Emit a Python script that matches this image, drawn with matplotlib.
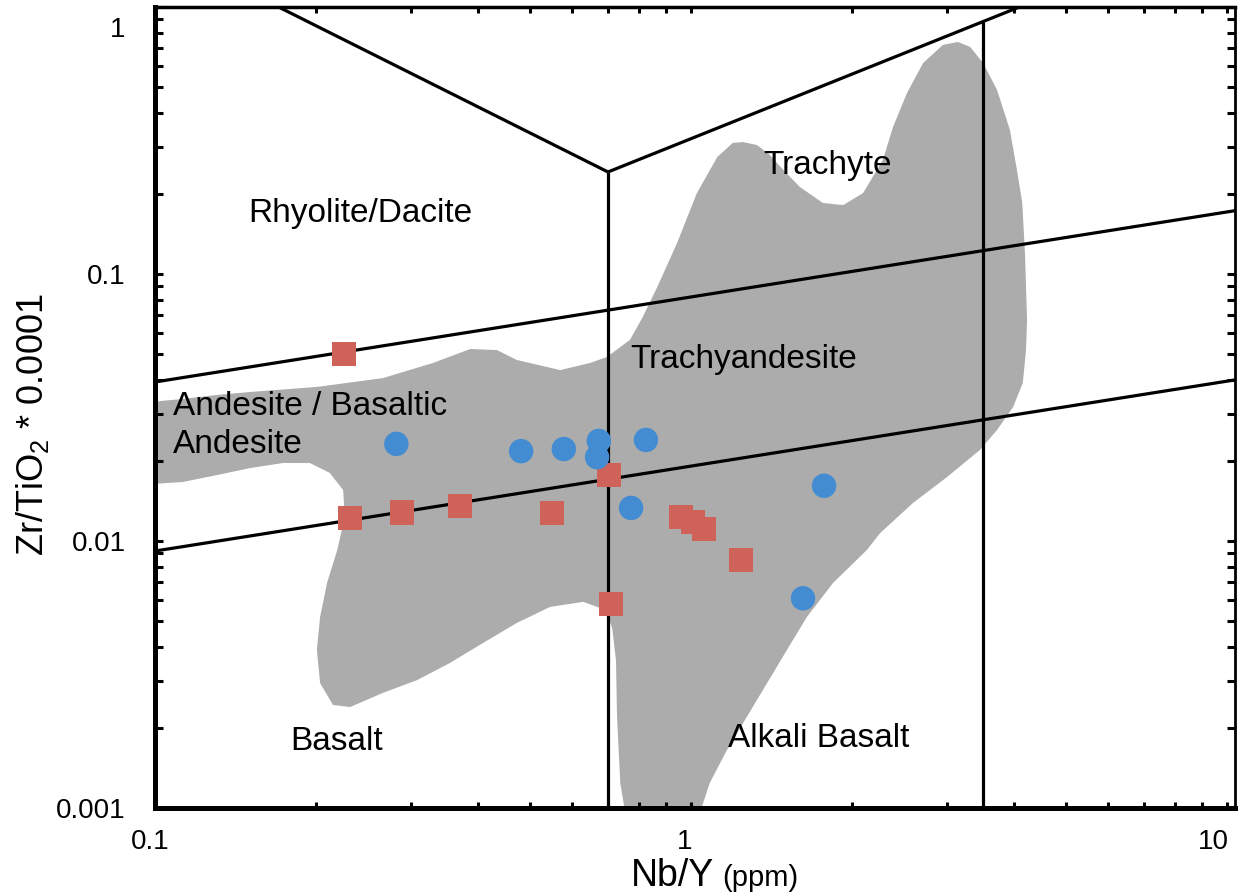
import matplotlib
matplotlib.use('Agg')
import matplotlib.pyplot as plt
import matplotlib.ticker as mtick
import matplotlib.transforms as mtrans
import numpy as np

plt.rcParams['font.family'] = ['Liberation Sans', 'DejaVu Sans']
plt.rcParams['mathtext.fontset'] = 'custom'
plt.rcParams['mathtext.rm'] = 'Liberation Sans'

# sample groups: Nb/Y and Zr/TiO2*0.0001
red_nby = [0.225, 0.231, 0.289, 0.371, 0.551, 0.703, 0.958, 1.009, 1.057, 1.240, 0.709]
red_zrti = [0.0501, 0.0122, 0.0128, 0.0135, 0.0127, 0.0177, 0.0123, 0.0118, 0.0111, 0.0085, 0.0058]
blue_nby = [0.282, 0.482, 0.579, 0.673, 0.668, 0.824, 0.773, 1.771, 1.618]
blue_zrti = [0.0231, 0.0217, 0.0221, 0.0237, 0.0206, 0.0239, 0.0133, 0.0161, 0.0061]

# outline of the grey comparison field (log10 units)
field_log_nby = [-1.009, -0.991, -0.948, -0.884, -0.823, -0.698, -0.575, -0.481, -0.412, -0.362,
                 -0.325, -0.244, -0.188, -0.157, -0.114, -0.090, -0.063, -0.026, 0.011, 0.049,
                 0.078, 0.097, 0.123, 0.147, 0.172, 0.203, 0.246, 0.284, 0.321, 0.358,
                 0.377, 0.403, 0.433, 0.470, 0.498, 0.521, 0.545, 0.571, 0.595, 0.608,
                 0.618, 0.623, 0.627, 0.625, 0.619, 0.601, 0.571, 0.539, 0.478, 0.414,
                 0.353, 0.328, 0.265, 0.216, 0.179, 0.142, 0.104, 0.067, 0.035, 0.017,
                 -0.123, -0.132, -0.138, -0.140, -0.147, -0.160, -0.201, -0.263, -0.325, -0.388,
                 -0.450, -0.511, -0.575, -0.636, -0.668, -0.692, -0.698, -0.692, -0.679, -0.660,
                 -0.646, -0.649, -0.674, -0.711, -0.761, -0.823, -0.884, -0.948, -1.009]
field_log_zrti = [-1.487, -1.476, -1.468, -1.453, -1.442, -1.423, -1.390, -1.333, -1.281, -1.285,
                  -1.322, -1.360, -1.333, -1.311, -1.247, -1.161, -1.049, -0.884, -0.697, -0.562,
                  -0.509, -0.506, -0.517, -0.554, -0.610, -0.674, -0.734, -0.742, -0.697, -0.573,
                  -0.449, -0.322, -0.210, -0.142, -0.131, -0.150, -0.210, -0.311, -0.461, -0.610,
                  -0.734, -0.921, -1.172, -1.285, -1.408, -1.498, -1.584, -1.659, -1.760, -1.858,
                  -1.970, -2.034, -2.157, -2.285, -2.408, -2.532, -2.659, -2.783, -2.906, -3.015,
                  -3.015, -2.906, -2.659, -2.446, -2.326, -2.258, -2.228, -2.247, -2.307, -2.382,
                  -2.457, -2.521, -2.569, -2.622, -2.614, -2.532, -2.408, -2.285, -2.157, -2.034,
                  -1.910, -1.809, -1.745, -1.708, -1.708, -1.727, -1.753, -1.779, -1.787]

# classification boundaries (Nb/Y list, Zr/TiO2 list)
boundaries = [
    ([0.17, 0.70], [1.0, 0.241]),
    ([0.70, 4.1], [0.241, 1.0]),
    ([0.70, 0.70], [0.241, 0.001]),
    ([3.5, 3.5], [0.881, 0.001]),
    ([0.1, 11], [0.0394, 0.176]),
    ([0.1, 11], [0.00917, 0.0409]),
]

x_ticks = [0.1, 1, 10]
x_ticklabels = ['0.1', '1', '10']
y_ticks = [0.001, 0.01, 0.1, 1]
y_ticklabels = ['0.001', '0.01', '0.1', '1']

fig = plt.figure(figsize=(12.38, 8.94), dpi=100)
ax = fig.add_axes([0.1252, 0.0962, 0.8724, 0.8960])
ax.set_xscale('log')
ax.set_yscale('log')
ax.set_xlim(0.1, 10.35)
ax.set_ylim(0.001, 1.0)

ax.fill(10 ** np.array(field_log_nby), 10 ** np.array(field_log_zrti),
        color='#acacac', lw=0, zorder=1)

for xs, ys in boundaries:
    ax.plot(xs, ys, color='black', lw=2.3, zorder=2, solid_capstyle='butt')

ax.scatter(red_nby, red_zrti, marker='s', s=310, color='#cf635a', edgecolors='none', zorder=3)
ax.scatter(blue_nby, blue_zrti, marker='o', s=310, color='#438cd2', edgecolors='none', zorder=4)

# field names
fs = 24
ax.text(0.0861, 0.7316, 'Rhyolite/Dacite', transform=ax.transAxes, fontsize=fs, va='baseline', zorder=5)
ax.text(0.563, 0.7915, 'Trachyte', transform=ax.transAxes, fontsize=fs, va='baseline', zorder=5)
ax.text(0.4398, 0.5493, 'Trachyandesite', transform=ax.transAxes, fontsize=fs, va='baseline', zorder=5)
ax.text(0.0167, 0.4906, 'Andesite / Basaltic', transform=ax.transAxes, fontsize=fs, va='baseline', zorder=5)
ax.text(0.0167, 0.4432, 'Andesite', transform=ax.transAxes, fontsize=fs, va='baseline', zorder=5)
ax.text(0.125, 0.0724, 'Basalt', transform=ax.transAxes, fontsize=fs, va='baseline', zorder=5)
ax.text(0.5306, 0.0762, 'Alkali Basalt', transform=ax.transAxes, fontsize=fs, va='baseline', zorder=5)

# axis titles
ax.text(0.5176, -0.0974, 'Nb/Y', transform=ax.transAxes, fontsize=27, ha='right', va='baseline')
ax.text(0.525, -0.0974, '(ppm)', transform=ax.transAxes, fontsize=21, ha='left', va='baseline')
ax.text(-0.113, 0.478, 'Zr/TiO$_\\mathregular{2}$ * 0.0001', transform=ax.transAxes,
        fontsize=26, rotation=90, ha='center', va='center')

# ticks
ax.xaxis.set_major_locator(mtick.FixedLocator(x_ticks))
ax.xaxis.set_major_formatter(mtick.FixedFormatter(x_ticklabels))
ax.xaxis.set_minor_locator(mtick.LogLocator(base=10, subs=np.arange(2, 10)))
ax.xaxis.set_minor_formatter(mtick.NullFormatter())
ax.yaxis.set_major_locator(mtick.FixedLocator(y_ticks))
ax.yaxis.set_major_formatter(mtick.FixedFormatter(y_ticklabels))
ax.yaxis.set_minor_locator(mtick.LogLocator(base=10, subs=np.arange(2, 10)))
ax.yaxis.set_minor_formatter(mtick.NullFormatter())

ax.tick_params(axis='both', which='both', direction='in', top=True, right=True,
               width=2.2, labelsize=20, color='black')
ax.tick_params(axis='y', which='both', length=6, pad=21)
ax.tick_params(axis='x', which='both', length=4.5, pad=15)

ax.spines['left'].set_linewidth(3.6)
ax.spines['bottom'].set_linewidth(3.6)
ax.spines['top'].set_linewidth(2.5)
ax.spines['right'].set_linewidth(2.0)

# nudge a few tick labels
for tick, dx in zip(ax.xaxis.get_major_ticks(), [-5, -6, -14]):
    off = mtrans.ScaledTranslation(dx / 100, 0, fig.dpi_scale_trans)
    tick.label1.set_transform(tick.label1.get_transform() + off)
top_tick = ax.yaxis.get_major_ticks()[-1]
top_tick.label1.set_transform(top_tick.label1.get_transform()
                              + mtrans.ScaledTranslation(0, -0.20, fig.dpi_scale_trans))

fig.savefig('out.png', dpi=100)
